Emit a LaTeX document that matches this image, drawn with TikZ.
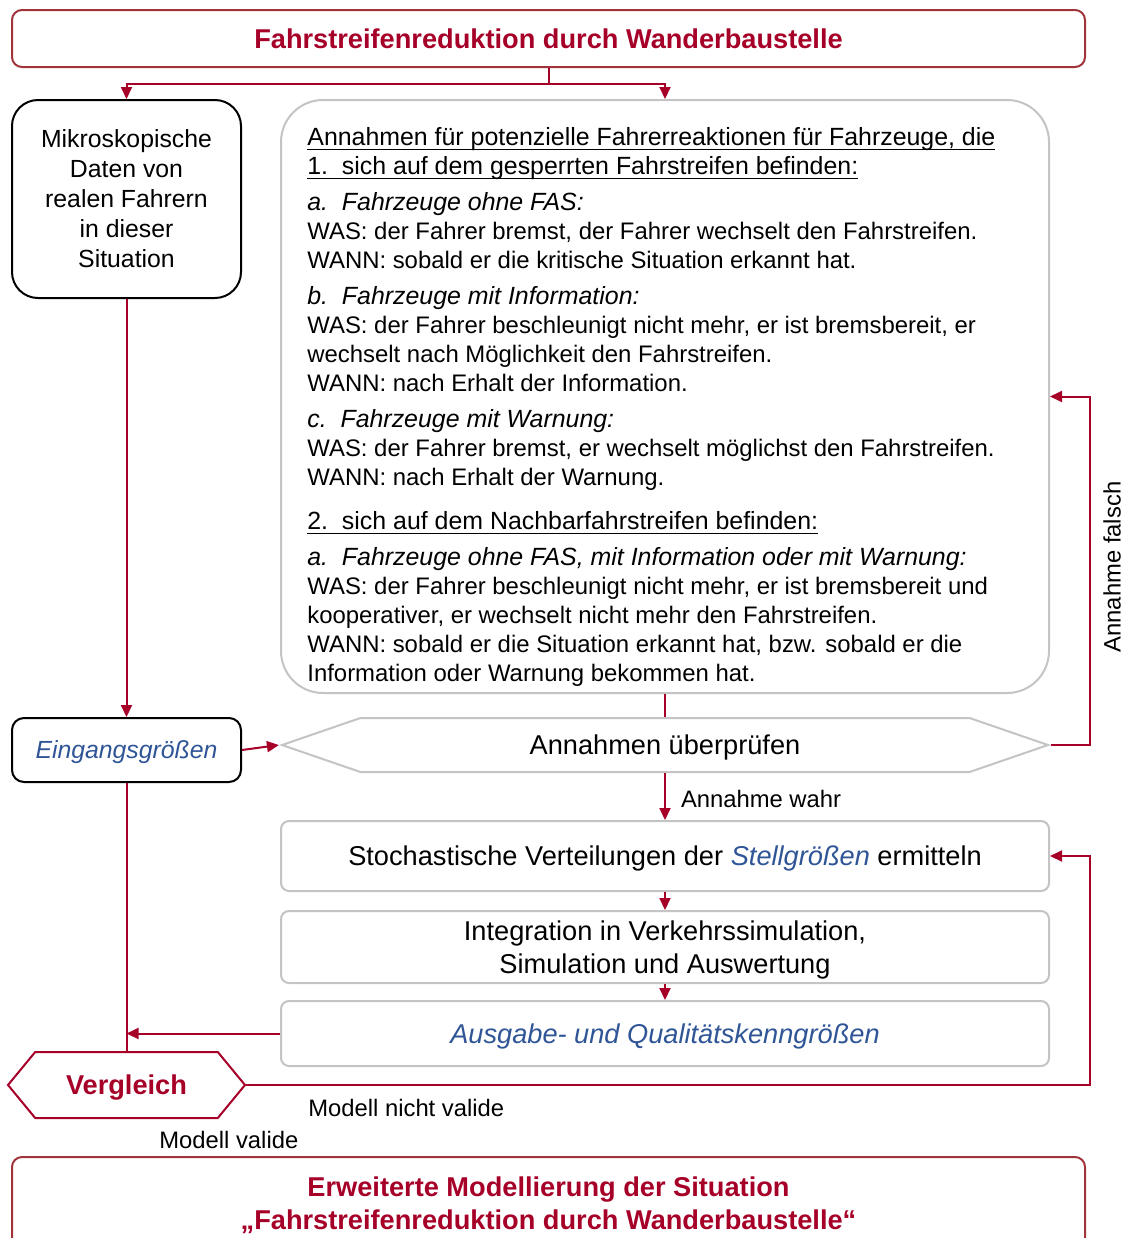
\documentclass[tikz,border=0pt]{standalone}
\usepackage{fontspec}
\setmainfont{Liberation Sans}
\usetikzlibrary{arrows.meta,shapes.symbols}

\definecolor{dbred}{RGB}{166,0,40}
\definecolor{framered}{RGB}{160,52,58}
\definecolor{lgray}{RGB}{196,196,196}
\definecolor{qblue}{RGB}{47,85,151}

\newcommand{\bigtxt}{\fontsize{13.6}{16.5}\selectfont}
\newcommand{\midtxt}{\fontsize{12.4}{15}\selectfont}
\newcommand{\smltxt}{\fontsize{11.9}{14}\selectfont}
\newcommand{\hdl}[1]{{\fontsize{12.45}{14.5}\selectfont #1}}
\newcommand{\ulin}[1]{\leavevmode\setbox0\hbox{#1}\rlap{\rule[-2.4pt]{\wd0}{0.7pt}}\box0}

\tikzset{
  flow/.style={draw=dbred, line width=1pt},
  arr/.style={flow, -{Triangle[length=6pt,width=5.5pt]}},
  titlebox/.style={draw=framered, line width=1pt, rounded corners=5pt, minimum width=536.5pt,
    inner sep=0pt, align=center, text=dbred, font=\bigtxt\bfseries},
  blackbox/.style={draw=black, line width=1pt, fill=white, minimum width=114.5pt, inner sep=0pt, align=center},
  graybox/.style={draw=lgray, line width=1pt, rounded corners=4pt, fill=white, minimum width=384pt,
    inner sep=0pt, align=center, font=\bigtxt, text depth=0pt},
  lbl/.style={font=\smltxt, inner sep=0pt}
}

\begin{document}
\begin{tikzpicture}[x=0.5pt, y=-0.5pt]
  \useasboundingbox (0,0) rectangle (1125,1238);

  \node[titlebox, minimum height=28.5pt] (top) at (548.5,38.5) {Fahrstreifenreduktion durch Wanderbaustelle};

  \node[blackbox, rounded corners=13pt, minimum height=99pt, font=\midtxt, text depth=0pt] (mikro) at (126.5,199)
    {Mikroskopische\\Daten von\\realen Fahrern\\in dieser\\Situation};

  \node[draw=lgray, line width=1pt, rounded corners=21pt, minimum width=384pt, minimum height=296.5pt]
    (annBox) at (665,396.5) {};
  \node[anchor=north west, inner sep=0pt, align=left, font=\fontsize{11.95}{14.5}\selectfont] (annText) at (307,127)
    {\hdl{\ulin{Annahmen für potenzielle Fahrerreaktionen für Fahrzeuge, die}}\\
     \hdl{\ulin{1.\ \ sich auf dem gesperrten Fahrstreifen befinden:}}\\[3.5pt]
     \hdl{\textit{a.\ \ Fahrzeuge ohne FAS:}}\\
     WAS: der Fahrer bremst, der Fahrer wechselt den Fahrstreifen.\\
     WANN: sobald er die kritische Situation erkannt hat.\\[3.5pt]
     \hdl{\textit{b.\ \ Fahrzeuge mit Information:}}\\
     WAS: der Fahrer beschleunigt nicht mehr, er ist bremsbereit, er\\
     wechselt nach Möglichkeit den Fahrstreifen.\\
     WANN: nach Erhalt der Information.\\[3.5pt]
     \hdl{\textit{c.\ \ Fahrzeuge mit Warnung:}}\\
     WAS: der Fahrer bremst, er wechselt möglichst den Fahrstreifen.\\
     WANN: nach Erhalt der Warnung.\\[7.5pt]
     \hdl{\ulin{2.\ \ sich auf dem Nachbarfahrstreifen befinden:}}\\[3.5pt]
     \hdl{\textit{a.\ \ Fahrzeuge ohne FAS, mit Information oder mit Warnung:}}\\
     WAS: der Fahrer beschleunigt nicht mehr, er ist bremsbereit und\\
     kooperativer, er wechselt nicht mehr den Fahrstreifen.\\
     WANN: sobald er die Situation erkannt hat, bzw. sobald er die\\
     Information oder Warnung bekommen hat.};

  \node[blackbox, rounded corners=6pt, minimum height=32pt, font=\midtxt\itshape, text=qblue, text depth=0pt]
    (eing) at (126.5,750) {Eingangsgrößen};

  \node[draw=lgray, line width=1pt, fill=white, signal, signal to=west and east, signal pointer angle=38,
    minimum width=383pt, minimum height=27pt, inner sep=0pt, font=\bigtxt, text depth=0pt] (check) at (665,745)
    {Annahmen überprüfen};

  \node[graybox, minimum height=35pt] (stoch) at (665,856)
    {Stochastische Verteilungen der \textcolor{qblue}{\textit{Stellgrößen}} ermitteln};
  \node[graybox, minimum height=36pt] (integ) at (665,947)
    {Integration in Verkehrssimulation,\\Simulation und Auswertung};
  \node[graybox, minimum height=32.5pt, font=\bigtxt\itshape, text=qblue] (ausg) at (665,1033.5)
    {Ausgabe- und Qualitätskenngrößen};

  \node[draw=dbred, line width=1pt, fill=white, signal, signal to=west and east, signal pointer angle=101,
    minimum width=118.5pt, minimum height=33pt, inner sep=0pt, text=dbred, font=\bigtxt\bfseries,
    text depth=0pt] (vgl) at (126.5,1085) {Vergleich};

  \node[titlebox, minimum height=46.5pt, text depth=0pt] (bottom) at (548.5,1203.5)
    {Erweiterte Modellierung der Situation\\„Fahrstreifenreduktion durch Wanderbaustelle“};

  \coordinate (split) at (548.5,84);
  \coordinate (rtA) at (1090,745);
  \coordinate (rtB) at (1090,1085);

  \draw[flow] (top.south) -- (split);
  \draw[arr] (split) -| (mikro.north);
  \draw[arr] (split) -| (annBox.north);
  \draw[arr] (mikro.south) -- (eing.north);
  \draw[arr] (eing.east) -- (check.west);
  \draw[flow] (annBox.south) -- (check.north);
  \draw[arr] (check.south) -- (stoch.north)
    node[lbl, midway, anchor=west, xshift=7.5pt, yshift=-1pt] (wahr) {Annahme wahr};
  \draw[arr] (check.east) -- (rtA) |- (annBox.east);
  \draw[arr] (stoch.south) -- (integ.north);
  \draw[arr] (integ.south) -- (ausg.north);
  \draw[flow] (eing.south) -- (vgl.north);
  \draw[arr] (ausg.west) -- (ausg.west -| eing.south);
  \draw[arr] (vgl.east) -- (rtB) |- (stoch.east);

  \node[lbl, rotate=90] (falsch) at (1112,567) {Annahme falsch};
  \node[lbl, anchor=west] (nvalid) at (308,1108) {Modell nicht valide};
  \node[lbl, anchor=west] (valid) at (159,1140) {Modell valide};
\end{tikzpicture}
\end{document}
